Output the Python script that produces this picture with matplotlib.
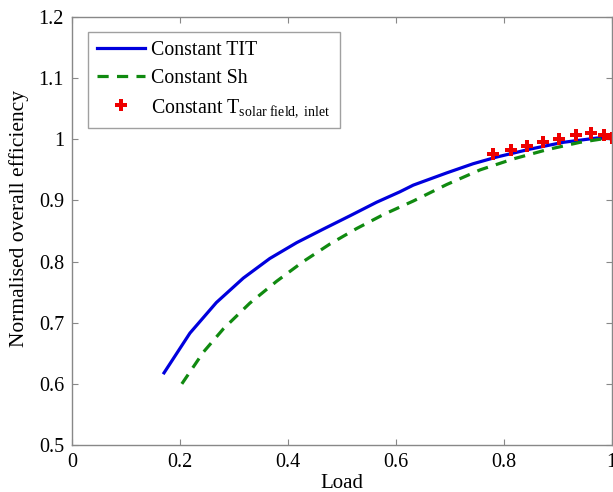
import matplotlib
matplotlib.use("Agg")
import matplotlib.pyplot as plt

plt.rcParams["font.family"] = ["Liberation Serif", "DejaVu Serif"]
plt.rcParams["mathtext.fontset"] = "custom"
plt.rcParams["mathtext.rm"] = "Liberation Serif"
plt.rcParams["mathtext.it"] = "Liberation Serif:italic"

# Constant turbine inlet temperature
load_tit = [0.170, 0.218, 0.267, 0.317, 0.366, 0.416, 0.465, 0.515, 0.564,
            0.607, 0.632, 0.694, 0.743, 0.787, 0.849, 0.910, 0.972, 1.000]
eff_tit = [0.618, 0.683, 0.733, 0.773, 0.805, 0.831, 0.853, 0.875, 0.897,
           0.914, 0.925, 0.945, 0.960, 0.971, 0.984, 0.995, 1.002, 1.001]

# Constant superheat
load_sh = [0.203, 0.243, 0.280, 0.329, 0.379, 0.428, 0.478, 0.527, 0.577,
           0.607, 0.632, 0.694, 0.756, 0.818, 0.880, 0.941, 0.978, 1.000]
eff_sh = [0.600, 0.652, 0.690, 0.732, 0.768, 0.800, 0.829, 0.854, 0.877,
          0.889, 0.899, 0.926, 0.950, 0.968, 0.983, 0.995, 1.000, 1.001]

# Constant solar field inlet temperature
load_sf = [0.780, 0.813, 0.842, 0.873, 0.903, 0.934, 0.961, 0.986, 1.000]
eff_sf = [0.976, 0.982, 0.989, 0.996, 1.000, 1.007, 1.011, 1.007, 1.002]

x_ticks = [0, 0.2, 0.4, 0.6, 0.8, 1]
x_tick_labels = ["0", "0.2", "0.4", "0.6", "0.8", "1"]
y_ticks = [0.5, 0.6, 0.7, 0.8, 0.9, 1.0, 1.1, 1.2]
y_tick_labels = ["0.5", "0.6", "0.7", "0.8", "0.9", "1", "1.1", "1.2"]

fig = plt.figure(figsize=(6.13, 4.92), dpi=100)
ax = fig.add_axes([0.118, 0.0955, 0.880, 0.870])

ax.plot(load_tit, eff_tit, color="#0000dd", lw=2.3, label="Constant TIT")
ax.plot(load_sh, eff_sh, color="#108a10", lw=2.3, ls=(0, (3.5, 2.6)),
        label="Constant Sh")
ax.plot(load_sf, eff_sf, ls="none", marker="P", color="#ee0000",
        markersize=9, markeredgewidth=0,
        label=r"Constant T$_{\mathrm{solar\ field,\ inlet}}$")

ax.set_xlim(0, 1)
ax.set_ylim(0.5, 1.2)
ax.set_xticks(x_ticks)
ax.set_xticklabels(x_tick_labels)
ax.set_yticks(y_ticks)
ax.set_yticklabels(y_tick_labels)
ax.tick_params(direction="in", length=4, width=0.8, color="#888888",
               labelsize=14.5, top=True, right=True, pad=6)
for sp in ax.spines.values():
    sp.set_color("#888888")
    sp.set_linewidth(1.0)

ax.set_xlabel("Load", fontsize=15, labelpad=1)
ax.set_ylabel("Normalised overall efficiency", fontsize=15.5)
ax.yaxis.set_label_coords(-0.080, 0.53)

leg = ax.legend(loc="upper left", fontsize=14.3, frameon=True, fancybox=False,
                edgecolor="#888888", borderaxespad=0.78, handlelength=2.45,
                handletextpad=0.3, labelspacing=0.45, borderpad=0.45)
leg.get_frame().set_linewidth(1.0)

fig.savefig("out.png", dpi=100)
